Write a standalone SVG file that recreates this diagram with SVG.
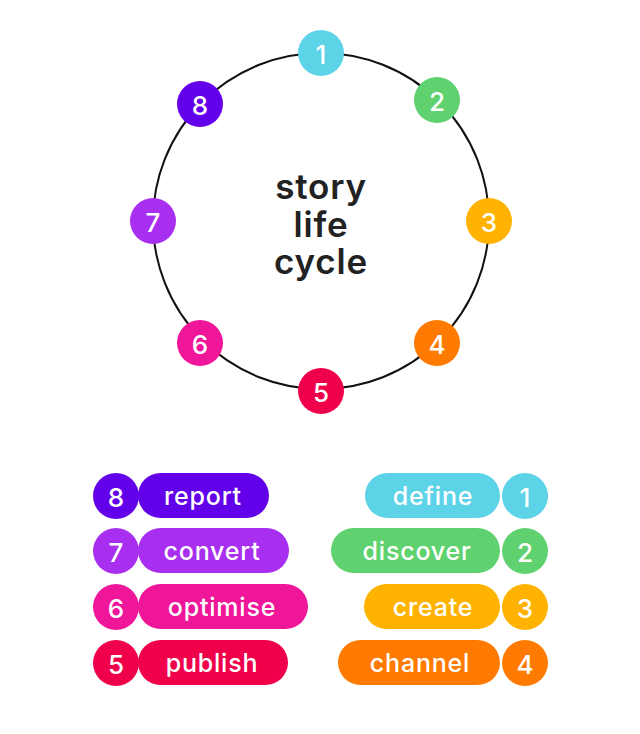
<svg xmlns="http://www.w3.org/2000/svg" width="640" height="734" viewBox="0 0 640 734">
<style>
.n{font-family:"Inter","Liberation Sans",sans-serif;font-weight:500;fill:#fff;font-size:26px;text-anchor:middle;dominant-baseline:central}
.t{font-family:"Inter","Liberation Sans",sans-serif;font-weight:500;fill:#fff;font-size:25px;letter-spacing:0.8px;text-anchor:middle;dominant-baseline:central}
.c{font-family:"Inter","Liberation Sans",sans-serif;font-weight:600;fill:#222;font-size:35px;letter-spacing:0.8px;text-anchor:middle}
</style>
<rect width="640" height="734" fill="#fff"/>
<g id="connectors"><circle cx="321" cy="221" r="168" fill="none" stroke="#111" stroke-width="2"/></g>
<g id="center"><text class="c" x="321" y="199">story</text><text class="c" x="321" y="237">life</text><text class="c" x="321" y="274">cycle</text></g>
<g id="n1"><circle cx="321" cy="53" r="23" fill="#5dd3e8"/><text class="n" x="321" y="54">1</text></g>
<g id="n2"><circle cx="437" cy="100" r="23" fill="#5fd26f"/><text class="n" x="437" y="101">2</text></g>
<g id="n3"><circle cx="489" cy="221" r="23" fill="#ffb300"/><text class="n" x="489" y="222">3</text></g>
<g id="n4"><circle cx="437" cy="343" r="23" fill="#ff7a00"/><text class="n" x="437" y="344">4</text></g>
<g id="n5"><circle cx="321" cy="391" r="23" fill="#f0004b"/><text class="n" x="321" y="392">5</text></g>
<g id="n6"><circle cx="200" cy="343" r="23" fill="#f0169a"/><text class="n" x="200" y="344">6</text></g>
<g id="n7"><circle cx="153" cy="221" r="23" fill="#a82ff0"/><text class="n" x="153" y="222">7</text></g>
<g id="n8"><circle cx="200" cy="104" r="23" fill="#6200ea"/><text class="n" x="200" y="105">8</text></g>
<g id="l8"><rect x="138" y="473" width="131" height="45" rx="22.5" fill="#6200ea"/><circle cx="116" cy="496" r="23" fill="#6200ea"/><text class="n" x="116" y="497">8</text><text class="t" x="203" y="496">report</text></g>
<g id="l7"><rect x="138" y="528" width="151" height="45" rx="22.5" fill="#a82ff0"/><circle cx="116" cy="551" r="23" fill="#a82ff0"/><text class="n" x="116" y="552">7</text><text class="t" x="212" y="551">convert</text></g>
<g id="l6"><rect x="138" y="584" width="170" height="45" rx="22.5" fill="#f0169a"/><circle cx="116" cy="607" r="23" fill="#f0169a"/><text class="n" x="116" y="608">6</text><text class="t" x="222" y="607">optimise</text></g>
<g id="l5"><rect x="138" y="640" width="150" height="45" rx="22.5" fill="#f0004b"/><circle cx="116" cy="663" r="23" fill="#f0004b"/><text class="n" x="116" y="664">5</text><text class="t" x="212" y="663">publish</text></g>
<g id="l1"><rect x="365" y="473" width="135" height="45" rx="22.5" fill="#5dd3e8"/><circle cx="525" cy="496" r="23" fill="#5dd3e8"/><text class="n" x="525" y="497">1</text><text class="t" x="433" y="496">define</text></g>
<g id="l2"><rect x="331" y="528" width="169" height="45" rx="22.5" fill="#5fd26f"/><circle cx="525" cy="551" r="23" fill="#5fd26f"/><text class="n" x="525" y="552">2</text><text class="t" x="417" y="551">discover</text></g>
<g id="l3"><rect x="364" y="584" width="136" height="45" rx="22.5" fill="#ffb300"/><circle cx="525" cy="607" r="23" fill="#ffb300"/><text class="n" x="525" y="608">3</text><text class="t" x="433" y="607">create</text></g>
<g id="l4"><rect x="338" y="640" width="162" height="45" rx="22.5" fill="#ff7a00"/><circle cx="525" cy="663" r="23" fill="#ff7a00"/><text class="n" x="525" y="664">4</text><text class="t" x="420" y="663">channel</text></g>
</svg>
